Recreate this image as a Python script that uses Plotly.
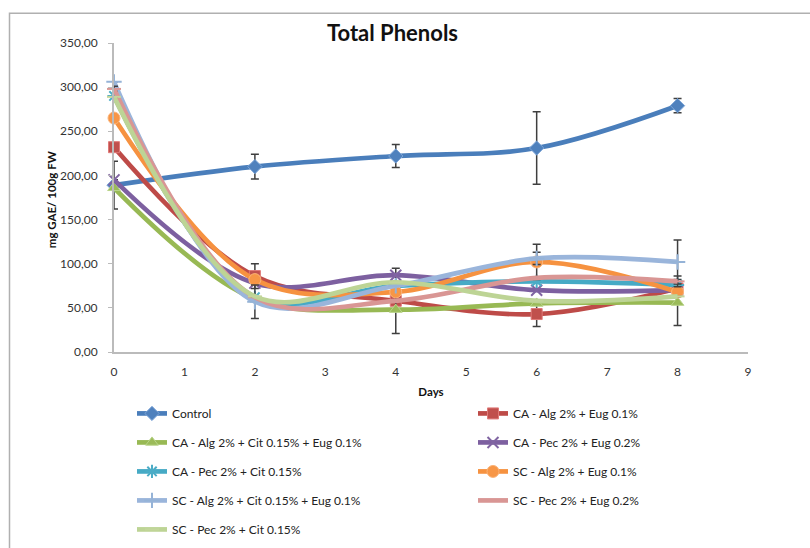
import plotly.graph_objects as go

days = [0, 2, 4, 6, 8]

series_names = [
    "Control",
    "CA - Alg 2% + Eug 0.1%",
    "CA - Alg 2% + Cit 0.15% + Eug 0.1%",
    "CA - Pec 2% + Eug 0.2%",
    "CA - Pec 2% + Cit 0.15%",
    "SC - Alg 2% + Eug 0.1%",
    "SC - Alg 2% + Cit 0.15% + Eug 0.1%",
    "SC - Pec 2% + Eug 0.2%",
    "SC - Pec 2% + Cit 0.15%",
]

control = [189, 210, 222, 231, 279]
ca_alg_eug = [232, 86, 58, 43, 72]
ca_alg_cit_eug = [186, 60, 48, 55, 56]
ca_pec_eug = [195, 78, 87, 70, 70]
ca_pec_cit = [290, 62, 75, 80, 76]
sc_alg_eug = [265, 82, 68, 102, 68]
sc_alg_cit_eug = [306, 57, 75, 106, 102]
sc_pec_eug = [298, 62, 58, 84, 80]
sc_pec_cit = [289, 63, 79, 58, 63]

# error bar half-widths (None = no error bar drawn)
err_control = [27, 14, 13, 41, 8]
err_ca_alg_eug = [None, 14, None, 14, None]
err_ca_alg_cit_eug = [None, None, 27, None, 26]
err_ca_pec_eug = [None, None, 8, None, None]
err_ca_pec_cit = [None, None, None, None, None]
err_sc_alg_eug = [None, None, None, 20, None]
err_sc_alg_cit_eug = [None, 19, None, 7, 25]
err_sc_pec_eug = [3, None, None, None, 6]
err_sc_pec_cit = [None, None, None, None, None]

values = [control, ca_alg_eug, ca_alg_cit_eug, ca_pec_eug, ca_pec_cit,
          sc_alg_eug, sc_alg_cit_eug, sc_pec_eug, sc_pec_cit]
errors = [err_control, err_ca_alg_eug, err_ca_alg_cit_eug, err_ca_pec_eug, err_ca_pec_cit,
          err_sc_alg_eug, err_sc_alg_cit_eug, err_sc_pec_eug, err_sc_pec_cit]

line_colors = ["#4A7EBB", "#BE4B48", "#98B954", "#7D60A0", "#46AAC5",
               "#F69240", "#9AB5DB", "#D99694", "#BDD495"]
marker_symbols = ["diamond", "square", "triangle-up", "x-thin", "asterisk",
                  "circle", "cross-thin", "line-ew", "line-ew"]
marker_fill = ["#4F81BD", "#C0504D", "#9BBB59", "#8064A2", "#4BACC6",
               "#F79646", "#95B3D7", "#D99694", "#C3D69B"]
marker_edge = ["#7EA6D8", "#E07A78", "#B9D48A", "#8064A2", "#4BACC6",
               "#FBB47A", "#95B3D7", "#D99694", "#C3D69B"]
marker_edge_w = [1, 1, 1, 2, 2, 1, 2, 2, 2]
marker_size = [11, 11, 11, 11, 11, 12, 11, 10, 10]
legend_ref = ["legend", "legend2", "legend", "legend2", "legend",
              "legend2", "legend", "legend2", "legend"]

FONT = "Lato, 'Open Sans', sans-serif"

fig = go.Figure()
for i, name in enumerate(series_names):
    fig.add_trace(go.Scatter(
        x=days, y=values[i], name=name, mode="lines+markers",
        line=dict(color=line_colors[i], width=4.7, shape="spline", smoothing=1.0),
        marker=dict(symbol=marker_symbols[i], size=marker_size[i], color=marker_fill[i],
                    line=dict(color=marker_edge[i], width=marker_edge_w[i])),
        error_y=dict(type="data", array=errors[i], visible=True,
                     color="#3F3F3F", thickness=1.5, width=4),
        cliponaxis=False,
        legend=legend_ref[i], legendgroup="g%d" % i,
    ))

L, R, T, B = 114, 810 - 748, 42.5, 548 - 352
PW = 810 - L - R
PH = 548 - T - B

fig.update_layout(
    width=810, height=548,
    margin=dict(l=L, r=R, t=T, b=B, pad=0, autoexpand=False),
    paper_bgcolor="white", plot_bgcolor="white",
    separators=",.",
    font=dict(family=FONT, size=12, color="#333333"),
    title=dict(text="<b>Total Phenols</b>", x=392.5 / 810, xref="container", xanchor="center",
               y=1 - 33.3 / 548, yref="container", yanchor="middle",
               font=dict(family=FONT, size=22, color="#111111")),
    xaxis=dict(range=[0, 9], dtick=1, tick0=0, showgrid=False, zeroline=False,
               showline=True, linecolor="#BBBBBB", linewidth=2, ticks="",
               tickfont=dict(family=FONT, size=12, color="#333333"),
               ticklabelstandoff=8,
               title=dict(text="<b>Days</b>", font=dict(family=FONT, size=11.5, color="#111111"),
                          standoff=10)),
    yaxis=dict(range=[0, 350], dtick=50, tick0=0, tickformat=".2f", showgrid=False,
               zeroline=False, showline=True, linecolor="#BBBBBB", linewidth=2,
               ticks="outside", ticklen=4, tickcolor="#BBBBBB", tickwidth=1,
               ticklabelstandoff=8,
               tickfont=dict(family=FONT, size=12, color="#333333")),
    legend=dict(x=(132 - L) / PW, y=(352 - 399) / PH, xanchor="left", yanchor="top",
                orientation="v", tracegroupgap=10, bgcolor="rgba(0,0,0,0)",
                font=dict(family=FONT, size=12, color="#222222"), itemwidth=30),
    legend2=dict(x=(473 - L) / PW, y=(352 - 399) / PH, xanchor="left", yanchor="top",
                 orientation="v", tracegroupgap=10, bgcolor="rgba(0,0,0,0)",
                 font=dict(family=FONT, size=12, color="#222222"), itemwidth=30),
    annotations=[dict(text="<b>mg GAE/ 100g FW</b>", x=(51 - L) / PW, y=(352 - 199) / PH,
                      xref="paper", yref="paper", xanchor="center", yanchor="middle",
                      textangle=-90, showarrow=False,
                      font=dict(family=FONT, size=11.5, color="#111111"))],
    shapes=[dict(type="rect", xref="paper", yref="paper",
                 x0=(9.5 - L) / PW, x1=3, y0=-3, y1=(352 - 12.7) / PH,
                 line=dict(color="#B0B0B0", width=1.5), fillcolor="rgba(0,0,0,0)",
                 layer="below")],
)

fig.write_html("out.html")
